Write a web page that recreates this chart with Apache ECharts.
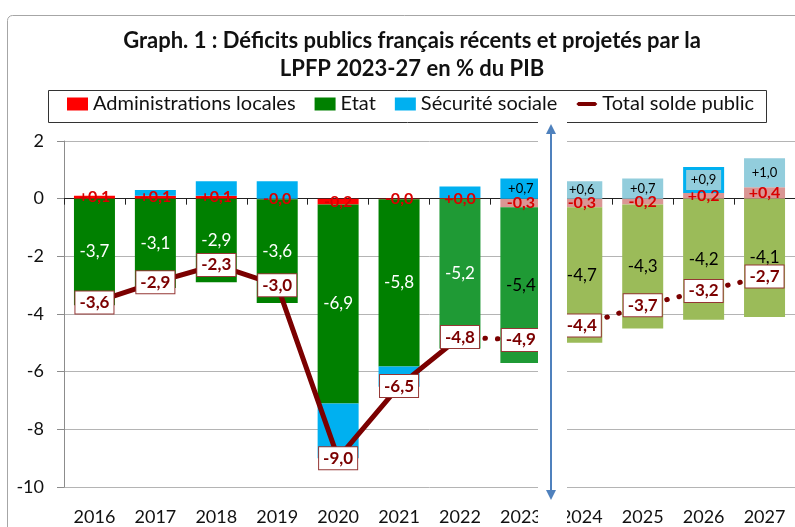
<!DOCTYPE html>
<html>
<head>
<meta charset="utf-8">
<script src="https://cdn.jsdelivr.net/npm/echarts@6/dist/echarts.min.js"></script>
<style>
    html, body { margin: 0; padding: 0; background: #fff; }
    #chart { width: 795px; height: 527px; }
</style>
</head>
<body>
<div id="chart"></div>
<script>
var years = ['2016', '2017', '2018', '2019', '2020', '2021', '2022', '2023', '2024', '2025', '2026', '2027'];
// administrations locales / Etat / securite sociale, en % du PIB
var apul = [0.1, 0.1, 0.1, -0.02, -0.2, -0.02, 0.02, -0.3, -0.3, -0.2, 0.2, 0.4];
var etat = [-3.7, -3.1, -2.9, -3.6, -6.9, -5.8, -5.2, -5.4, -4.7, -4.3, -4.2, -4.1];
var secu = [0, 0.2, 0.5, 0.6, -1.9, -0.7, 0.4, 0.7, 0.6, 0.7, 0.9, 1.0];
var total = [-3.6, -2.9, -2.3, -3.0, -9.0, -6.5, -4.8, -4.9, -4.4, -3.7, -3.2, -2.7];

function virg(v) {
    return v.toFixed(1).replace('.', ',');
}
function signe(v) {
    return (v < 0 ? '-' : '+') + Math.abs(v).toFixed(1).replace('.', ',');
}

var myChart = echarts.init(document.getElementById('chart'));

var apulData = apul.map(function (v, i) {
    return { value: v, itemStyle: { color: i < 7 ? '#FF0000' : '#DA9694' } };
});
var etatData = etat.map(function (v, i) {
    return {
        value: v,
        itemStyle: { color: i < 6 ? '#008000' : (i < 8 ? '#1F9A35' : '#9BBB59') },
        label: { color: i < 7 ? '#ffffff' : '#000000' }
    };
});
var secuData = secu.map(function (v, i) {
    return {
        value: v,
        itemStyle: {
            color: i < 8 ? '#00B0F0' : '#92CDDC',
            borderColor: '#00B0F0',
            borderWidth: i == 10 ? 3 : 0
        },
        label: { show: i >= 7 }
    };
});
var solide = total.map(function (v, i) { return i <= 6 ? v : '-'; });
var pointille = total.map(function (v, i) { return i >= 6 ? v : '-'; });

// trait epais pour la legende du total (les points aux coins fixent la taille)
var iconeTrait = 'path://M0,0L0.01,0L0.01,0.01Z M21,13L20.99,13L20.99,12.99Z M2,4.5L19,4.5L21,6.5L19,8.5L2,8.5L0,6.5Z';

var option = {
    backgroundColor: '#fff',
    animation: false,
    textStyle: { fontFamily: 'Lato' },
    title: {
        text: 'Graph. 1 : Déficits publics français récents et projetés par la\nLPFP 2023-27 en % du PIB',
        left: 407,
        top: 22,
        textAlign: 'center',
        textStyle: {
            fontFamily: 'Lato',
            fontSize: 22,
            fontWeight: 'bold',
            color: '#111',
            lineHeight: 28
        }
    },
    legend: {
        left: 67,
        top: 94,
        padding: 0,
        itemWidth: 21,
        itemHeight: 13,
        itemGap: 19,
        textStyle: { fontSize: 20, color: '#111', fontFamily: 'Lato' },
        data: [
            { name: 'Administrations locales', icon: 'rect' },
            { name: 'Etat', icon: 'rect' },
            { name: 'Sécurité sociale', icon: 'rect' },
            { name: 'Total solde public', icon: iconeTrait }
        ]
    },
    grid: { left: 64, right: 0, top: 141, bottom: 40 },
    xAxis: [{
        type: 'category',
        data: years,
        axisLine: { onZero: true, lineStyle: { color: '#222', width: 1 } },
        axisTick: { show: true, length: 6, lineStyle: { color: '#222' } },
        axisLabel: { show: false }
    }, {
        type: 'category',
        data: years,
        position: 'bottom',
        axisLine: { show: false, onZero: false },
        axisTick: { show: false },
        axisLabel: { fontSize: 18, color: '#111', margin: 21 }
    }],
    yAxis: {
        type: 'value',
        min: -10,
        max: 2,
        interval: 2,
        axisLine: { show: true, lineStyle: { color: '#8C8C8C' } },
        axisTick: { show: true, length: 7, lineStyle: { color: '#8C8C8C' } },
        splitLine: { lineStyle: { color: '#B4B4B4' } },
        axisLabel: { fontSize: 18, color: '#111', margin: 20 }
    },
    series: [{
        name: 'Administrations locales',
        type: 'bar',
        stack: 'solde',
        barWidth: 41,
        itemStyle: { color: '#FF0000' },
        label: {
            show: true,
            position: 'inside',
            formatter: function (p) { return signe(p.value); },
            fontSize: 16,
            fontWeight: 'bold',
            color: '#D80000'
        },
        data: apulData
    }, {
        name: 'Etat',
        type: 'bar',
        stack: 'solde',
        barWidth: 41,
        itemStyle: { color: '#008000' },
        label: {
            show: true,
            position: 'inside',
            formatter: function (p) { return virg(p.value); },
            fontSize: 17
        },
        data: etatData
    }, {
        name: 'Sécurité sociale',
        type: 'bar',
        stack: 'solde',
        barWidth: 41,
        itemStyle: { color: '#00B0F0' },
        label: {
            position: 'inside',
            formatter: function (p) { return signe(p.value); },
            fontSize: 13,
            color: '#000'
        },
        data: secuData
    }, {
        name: 'Total solde public',
        type: 'line',
        symbol: 'none',
        z: 3,
        lineStyle: { color: '#7B0000', width: 5, cap: 'round' },
        itemStyle: { color: '#7B0000' },
        data: solide
    }, {
        name: 'Total pointillé',
        type: 'line',
        symbol: 'none',
        z: 3,
        lineStyle: { color: '#7B0000', width: 5, type: [0.5, 12], cap: 'round' },
        data: pointille
    }, {
        name: 'Total étiquettes',
        type: 'scatter',
        symbolSize: 1,
        z: 5,
        itemStyle: { color: 'rgba(0,0,0,0)', opacity: 1 },
        label: {
            show: true,
            position: 'inside',
            formatter: function (p) { return virg(p.value); },
            fontSize: 17,
            fontWeight: 'bold',
            color: '#7B0000',
            backgroundColor: '#fff',
            borderColor: '#953735',
            borderWidth: 1,
            padding: [3, 4, 2, 4]
        },
        data: total
    }],
    graphic: [{
        type: 'rect',
        z: 0,
        shape: { x: 7.5, y: 15.5, width: 800, height: 530, r: 5 },
        style: { fill: 'none', stroke: '#A6A6A6', lineWidth: 1 }
    }, {
        type: 'rect',
        z: 1,
        shape: { x: 48.5, y: 90.5, width: 718, height: 32 },
        style: { fill: 'none', stroke: '#333', lineWidth: 1 }
    }, {
        type: 'rect',
        z: 50,
        shape: { x: 538, y: 121, width: 29, height: 410 },
        style: { fill: '#fff' }
    }, {
        type: 'line',
        z: 51,
        shape: { x1: 551, y1: 130, x2: 551, y2: 494 },
        style: { stroke: '#4F81BD', lineWidth: 2 }
    }, {
        type: 'polygon',
        z: 51,
        shape: { points: [[551, 124], [546, 134], [556, 134]] },
        style: { fill: '#4F81BD' }
    }, {
        type: 'polygon',
        z: 51,
        shape: { points: [[551, 500], [546, 490], [556, 490]] },
        style: { fill: '#4F81BD' }
    }]
};
myChart.setOption(option);
</script>
</body>
</html>
